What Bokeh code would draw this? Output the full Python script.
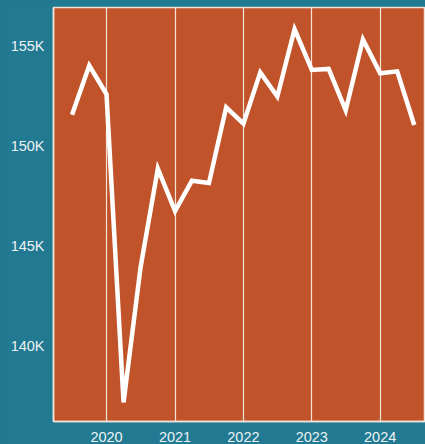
import pandas as pd
from bokeh.plotting import figure
from bokeh.models import FixedTicker, DatetimeTickFormatter, CustomJSTickFormatter, GlobalInlineStyleSheet, Range1d
from bokeh.embed import file_html
from bokeh.resources import INLINE

# Quarterly data
dates = ["2019-07-01", "2019-10-01", "2020-01-01", "2020-04-01", "2020-07-01",
         "2020-10-01", "2021-01-01", "2021-04-01", "2021-07-01", "2021-10-01",
         "2022-01-01", "2022-04-01", "2022-07-01", "2022-10-01", "2023-01-01",
         "2023-04-01", "2023-07-01", "2023-10-01", "2024-01-01", "2024-04-01",
         "2024-07-01"]
values = [151580, 154040, 152600, 137160, 143940,
          148870, 146750, 148270, 148150, 151950,
          151130, 153700, 152490, 155860, 153820,
          153870, 151800, 155350, 153650, 153750,
          151060]
year_ticks = ["2020-01-01", "2021-01-01", "2022-01-01", "2023-01-01", "2024-01-01"]
y_ticks = [140000, 145000, 150000, 155000]

TEAL = "#217a91"
ORANGE = "#c0532a"
PALE = "#f3e4da"
FONT = "Liberation Sans"

x = pd.to_datetime(dates)
tick_ms = [pd.Timestamp(d).value / 1e6 for d in year_ticks]

x0 = pd.Timestamp("2019-03-24").value / 1e6
x1 = pd.Timestamp("2024-08-30").value / 1e6

p = figure(width=425, height=444, x_axis_type="datetime",
           output_backend="svg", toolbar_location=None,
           x_range=Range1d(x0, x1), y_range=Range1d(136200, 156950),
           min_border_left=53, min_border_right=0, min_border_top=7, min_border_bottom=2)

p.stylesheets = [GlobalInlineStyleSheet(css=f"body {{ background: {TEAL}; }}")]

p.background_fill_color = ORANGE
p.border_fill_color = TEAL
p.outline_line_color = PALE
p.outline_line_width = 1.5

p.line(x, values, line_color="white", line_width=4.5, line_join="miter")

p.xaxis.ticker = FixedTicker(ticks=tick_ms)
p.xaxis.formatter = DatetimeTickFormatter(years="%Y", months="%Y", days="%Y")
p.yaxis.ticker = FixedTicker(ticks=y_ticks)
p.yaxis.formatter = CustomJSTickFormatter(code="return (tick/1000).toFixed(0) + 'K';")

for ax in (p.xaxis, p.yaxis):
    ax.axis_line_color = PALE
    ax.axis_line_width = 1.5
    ax.major_tick_line_color = None
    ax.minor_tick_line_color = None
    ax.major_tick_out = 0
    ax.major_tick_in = 0
    ax.major_label_text_color = "#eef2f4"
    ax.major_label_text_font = FONT
    ax.major_label_text_font_size = "14.5px"

p.xaxis.major_label_standoff = 10
p.yaxis.major_label_standoff = 9

p.xgrid.ticker = FixedTicker(ticks=tick_ms)
p.xgrid.grid_line_color = PALE
p.xgrid.grid_line_width = 1.2
p.ygrid.grid_line_color = None

open("out.html", "w").write(file_html(p, INLINE))
